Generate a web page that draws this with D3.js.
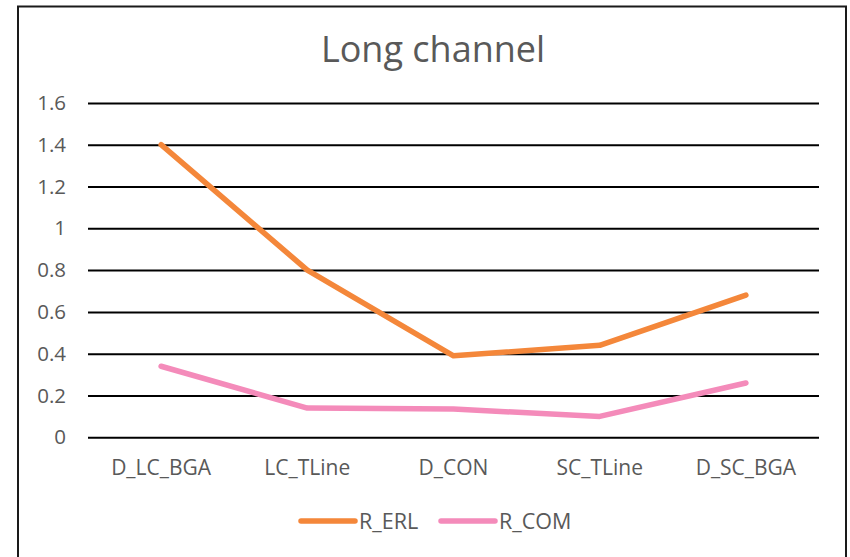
<!DOCTYPE html>
<html>
<head>
<meta charset="utf-8">
<script src="https://cdn.jsdelivr.net/npm/d3@7/dist/d3.min.js"></script>
<style>
  html, body { margin: 0; padding: 0; background: #fff; }
  svg { display: block; }
  text { font-family: "Open Sans", "Liberation Sans", sans-serif; fill: #595959; }
</style>
</head>
<body>
<script>
const categories = ["D_LC_BGA", "LC_TLine", "D_CON", "SC_TLine", "D_SC_BGA"];
const rERL = [1.40, 0.80, 0.39, 0.44, 0.68];
const rCOM = [0.34, 0.14, 0.135, 0.10, 0.26];
const yTicks = [0, 0.2, 0.4, 0.6, 0.8, 1, 1.2, 1.4, 1.6];
const seriesNames = ["R_ERL", "R_COM"];
const seriesColors = ["#F4873A", "#F48BBA"];

const W = 850, H = 557;
const svg = d3.select("body").append("svg").attr("width", W).attr("height", H);

// chart frame
svg.append("rect")
  .attr("x", 18).attr("y", 6.5).attr("width", 828).attr("height", 560)
  .attr("fill", "#fff").attr("stroke", "#1a1a1a").attr("stroke-width", 2);

const plot = { left: 88, right: 819, top: 102.9, bottom: 437.3 };

const x = d3.scaleBand().domain(categories).range([plot.left, plot.right]);
const y = d3.scaleLinear().domain([0, 1.6]).range([plot.bottom, plot.top]);

// title
svg.append("text")
  .attr("x", 433).attr("y", 62)
  .attr("text-anchor", "middle")
  .style("font-size", "36px")
  .text("Long channel");

// gridlines + y labels
const yAxis = d3.axisLeft(y).tickValues(yTicks).tickSize(-(plot.right - plot.left))
  .tickFormat(d => String(d)).tickPadding(22);
const gy = svg.append("g").attr("transform", `translate(${plot.left},0)`).call(yAxis);
gy.attr("font-size", null).attr("font-family", null);
gy.select(".domain").remove();
gy.selectAll(".tick line").attr("stroke", "#000").attr("stroke-width", 2);
gy.selectAll(".tick text").attr("font-size", 20.5).attr("fill", "#595959");

// x labels
const xAxis = d3.axisBottom(x).tickSize(0).tickPadding(23);
const gx = svg.append("g").attr("transform", `translate(0,${plot.bottom})`).call(xAxis);
gx.attr("font-size", null).attr("font-family", null);
gx.select(".domain").remove();
gx.selectAll(".tick text").attr("font-size", 21).attr("fill", "#595959");

// series lines
const line = d3.line()
  .x((d, i) => x(categories[i]) + x.bandwidth() / 2)
  .y(d => y(d));

[rERL, rCOM].forEach((vals, k) => {
  svg.append("path")
    .datum(vals)
    .attr("d", line)
    .attr("fill", "none")
    .attr("stroke", seriesColors[k])
    .attr("stroke-width", 5.5)
    .attr("stroke-linejoin", "round")
    .attr("stroke-linecap", "round");
});

// legend
const legendX = [301, 441];
seriesNames.forEach((name, k) => {
  const g = svg.append("g").attr("transform", `translate(${legendX[k]},521)`);
  g.append("line").attr("x1", 0).attr("x2", 54).attr("y1", 0).attr("y2", 0)
    .attr("stroke", seriesColors[k]).attr("stroke-width", 5.5).attr("stroke-linecap", "round");
  g.append("text").attr("x", 58).attr("y", 7.5).attr("font-size", 21.5).text(name);
});
</script>
</body>
</html>
